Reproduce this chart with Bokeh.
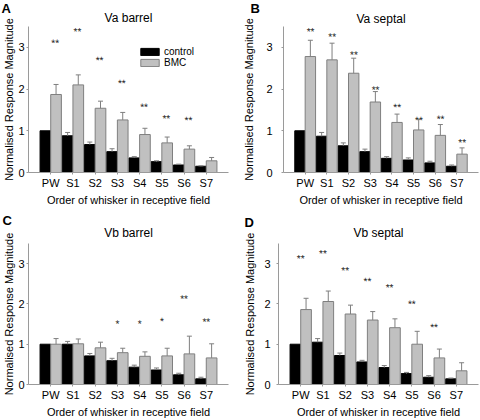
from bokeh.plotting import figure
from bokeh.models import (Range1d, FixedTicker, ColumnDataSource, Whisker, TeeHead,
                          Title, Legend, LegendItem)
from bokeh.layouts import column, row
from bokeh.embed import file_html
from bokeh.resources import INLINE
from bokeh.core.properties import value

# ---------------- data ----------------
whiskers = ["PW", "S1", "S2", "S3", "S4", "S5", "S6", "S7"]

va_barrel_control = [1.00, 0.88, 0.67, 0.50, 0.35, 0.26, 0.18, 0.15]
va_barrel_control_err = [0.00, 0.08, 0.06, 0.07, 0.03, 0.02, 0.02, 0.01]
va_barrel_bmc = [1.87, 2.10, 1.54, 1.26, 0.91, 0.71, 0.56, 0.28]
va_barrel_bmc_err = [0.24, 0.24, 0.17, 0.18, 0.15, 0.14, 0.08, 0.08]
va_barrel_sig = ["**", "**", "**", "**", "**", "**", "**", ""]
va_barrel_sig_y = [3.15, 3.43, 2.74, 2.19, 1.62, 1.34, 1.30, 0.0]

va_septal_control = [1.00, 0.87, 0.64, 0.50, 0.34, 0.30, 0.23, 0.15]
va_septal_control_err = [0.00, 0.09, 0.07, 0.06, 0.04, 0.05, 0.04, 0.03]
va_septal_bmc = [2.78, 2.70, 2.38, 1.69, 1.20, 1.02, 0.89, 0.44]
va_septal_bmc_err = [0.39, 0.40, 0.36, 0.25, 0.20, 0.25, 0.26, 0.15]
va_septal_sig = ["**", "**", "**", "**", "**", "**", "**", "**"]
va_septal_sig_y = [3.43, 3.30, 2.87, 2.03, 1.61, 1.30, 1.33, 0.77]

vb_barrel_control = [1.00, 1.00, 0.71, 0.59, 0.43, 0.36, 0.24, 0.14]
vb_barrel_control_err = [0.00, 0.07, 0.06, 0.06, 0.05, 0.05, 0.04, 0.04]
vb_barrel_bmc = [1.00, 1.01, 0.91, 0.79, 0.70, 0.71, 0.76, 0.66]
vb_barrel_bmc_err = [0.14, 0.12, 0.14, 0.11, 0.11, 0.19, 0.44, 0.35]
vb_barrel_sig = ["", "", "", "*", "*", "*", "**", "**"]
vb_barrel_sig_y = [0.0, 0.0, 0.0, 1.56, 1.56, 1.62, 2.18, 1.61]

vb_septal_control = [1.00, 1.05, 0.72, 0.56, 0.42, 0.27, 0.18, 0.14]
vb_septal_control_err = [0.00, 0.09, 0.06, 0.04, 0.05, 0.03, 0.04, 0.02]
vb_septal_bmc = [1.86, 2.06, 1.75, 1.60, 1.41, 1.00, 0.66, 0.34]
vb_septal_bmc_err = [0.28, 0.26, 0.22, 0.21, 0.22, 0.32, 0.22, 0.20]
vb_septal_sig = ["**", "**", "**", "**", "**", "**", "**", ""]
vb_septal_sig_y = [3.18, 3.30, 2.88, 2.61, 2.46, 2.05, 1.47, 0.0]

y_ticks = [0, 1, 2, 3]

# ---------------- styling ----------------
FONT = "Liberation Sans"
BLACK = "#000000"
GREY_FILL = "#c0c0c0"
GREY_LINE = "#7f7f7f"
AXIS_GREY = "#9a9a9a"
TEXT = "#000000"
BAR_W = 0.48


def make_panel(letter, title, control, control_err, bmc, bmc_err, sig, sig_y,
               star_dx, borders, letter_pos, name_standoff, ystand, legend=False):
    left, right, top, bottom = borders
    p = figure(width=240, height=210, output_backend="svg", toolbar_location=None,
               x_range=Range1d(-1, 8), y_range=Range1d(0, 3.5),
               min_border_left=left, min_border_right=right,
               min_border_top=top, min_border_bottom=bottom,
               title=letter)
    p.outline_line_color = None
    p.grid.visible = False
    p.background_fill_color = "white"
    p.border_fill_color = "white"

    # panel letter (outer title)
    p.title.text_font = FONT
    p.title.text_font_size = "13px"
    p.title.text_font_style = "bold"
    p.title.text_color = "#000000"
    p.title.align = "left"
    p.title.offset = letter_pos[0]
    p.title.standoff = letter_pos[1]
    # panel name (inner title)
    p.add_layout(Title(text=title, align="center", standoff=name_standoff,
                       text_font=FONT, text_font_size="12px",
                       text_font_style="normal", text_color=TEXT), "above")

    idx = list(range(len(whiskers)))
    xc = [i - BAR_W / 2 for i in idx]
    xg = [i + BAR_W / 2 for i in idx]

    rb = p.vbar(x=xc, top=control, width=BAR_W, bottom=0,
                fill_color=BLACK, line_color=BLACK, line_width=1)
    rg = p.vbar(x=xg, top=bmc, width=BAR_W, bottom=0,
                fill_color=GREY_FILL, line_color=GREY_LINE, line_width=1)

    for xs, vals, errs in ((xc, control, control_err), (xg, bmc, bmc_err)):
        keep = [k for k in idx if errs[k] > 0]
        src = ColumnDataSource(dict(
            x=[xs[k] for k in keep],
            lower=[vals[k] for k in keep],
            upper=[vals[k] + errs[k] for k in keep]))
        w = Whisker(base="x", lower="lower", upper="upper", source=src,
                    dimension="height", line_color=GREY_LINE, line_width=1,
                    upper_head=TeeHead(size=5, line_color=GREY_LINE, line_width=1),
                    lower_head=None, level="glyph")
        p.add_layout(w)

    keep = [k for k in idx if sig[k]]
    ssrc = ColumnDataSource(dict(x=[k + star_dx for k in keep],
                                 y=[sig_y[k] for k in keep],
                                 t=[sig[k] for k in keep]))
    p.text(x="x", y="y", text="t", source=ssrc, text_font=value(FONT),
           text_font_size="10px", text_align="center", text_baseline="middle",
           y_offset=2, angle=0.001, text_color="#111111")

    # axes
    for ax in (p.xaxis[0], p.yaxis[0]):
        ax.axis_line_color = AXIS_GREY
        ax.axis_line_width = 1
        ax.major_tick_line_color = AXIS_GREY
        ax.major_tick_out = 2
        ax.major_tick_in = 0
        ax.minor_tick_line_color = None
        ax.major_label_text_font = FONT
        ax.major_label_text_font_size = "11px"
        ax.major_label_text_color = TEXT
        ax.axis_label_text_font = FONT
        ax.axis_label_text_font_size = "11px"
        ax.axis_label_text_font_style = "normal"
        ax.axis_label_text_color = TEXT

    p.xaxis.ticker = FixedTicker(ticks=idx)
    p.xaxis.major_label_overrides = {i: w for i, w in enumerate(whiskers)}
    p.xaxis.major_label_standoff = 2
    p.xaxis.axis_label = "Order of whisker in receptive field"
    p.xaxis.axis_label_standoff = 2

    p.yaxis.ticker = FixedTicker(ticks=y_ticks)
    p.yaxis.major_label_standoff = ystand[0]
    p.yaxis.axis_label = "Normalised Response Magnitude"
    p.yaxis.axis_label_standoff = ystand[1]

    if legend:
        lg = Legend(items=[LegendItem(label="control", renderers=[rb]),
                           LegendItem(label="BMC", renderers=[rg])],
                    location=(110, 104), orientation="vertical",
                    label_text_font=FONT, label_text_font_size="10px",
                    label_text_color=TEXT, glyph_width=23, glyph_height=9,
                    label_height=9, label_standoff=3, spacing=0, padding=0,
                    margin=0, border_line_color=None, background_fill_alpha=0)
        p.add_layout(lg)
    return p


pA = make_panel("A", "Va barrel", va_barrel_control, va_barrel_control_err,
                va_barrel_bmc, va_barrel_bmc_err, va_barrel_sig, va_barrel_sig_y,
                0.2, (27, 12, 26, 38), (-27, -15), 2.4, (2, 0), legend=True)
pB = make_panel("B", "Va septal", va_septal_control, va_septal_control_err,
                va_septal_bmc, va_septal_bmc_err, va_septal_sig, va_septal_sig_y,
                0.25, (38, 2, 26, 38), (-33, -14), 1.8, (9, 8))
pC = make_panel("C", "Vb barrel", vb_barrel_control, vb_barrel_control_err,
                vb_barrel_bmc, vb_barrel_bmc_err, vb_barrel_sig, vb_barrel_sig_y,
                0.0, (27, 12, 33, 31), (-26, -17.6), 7.6, (2, 0))
pD = make_panel("D", "Vb septal", vb_septal_control, vb_septal_control_err,
                vb_septal_bmc, vb_septal_bmc_err, vb_septal_sig, vb_septal_sig_y,
                0.0, (38, 2, 33, 31), (-34, -19.6), 7.0, (6, 5))

layout = column(row(pA, pB), row(pC, pD))

open("out.html", "w").write(file_html(layout, INLINE))
